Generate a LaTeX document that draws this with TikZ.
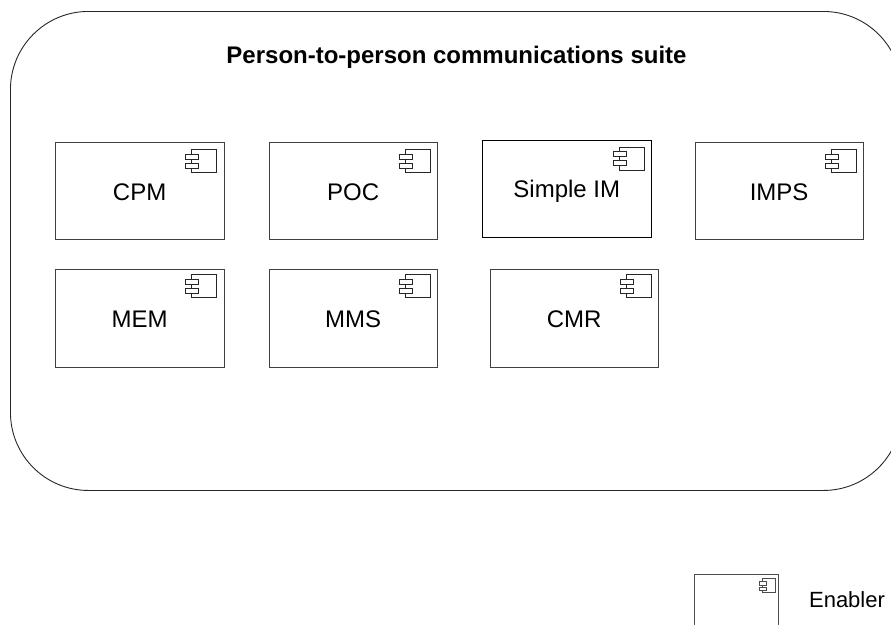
\documentclass[tikz,border=0pt]{standalone}
\usepackage{fontspec}
\setmainfont{Liberation Sans}
\tikzset{
  comp/.style={draw=black!75,line width=0.8pt,fill=white,inner sep=0pt,anchor=north west,
    minimum width=168.5pt,minimum height=97.5pt,text height=19.5pt,text depth=0pt,font=\fontsize{24}{28}\selectfont},
  lowcomp/.style={comp,text height=18pt},
  darkcomp/.style={comp,draw=black,line width=1.1pt,text height=17pt},
  iconline/.style={draw=black!85,line width=0.9pt,fill=white},
  smallicon/.style={draw=black!70,line width=0.8pt,fill=white},
  suite/.style={draw=black!85,line width=0.9pt,rounded corners=78pt,inner sep=0pt,anchor=north west,minimum width=891pt,minimum height=479pt},
  plain/.style={inner sep=0pt},
}
% #1 node name, #2 distance of the icon's top below the box's top
\newcommand{\compicon}[2]{%
  \path[iconline] ([shift={(-32.5pt,-#2pt)}]#1.north east) rectangle ([shift={(-7.5pt,-#2pt-23pt)}]#1.north east);
  \path[iconline] ([shift={(-38.5pt,-#2pt-4.5pt)}]#1.north east) rectangle ([shift={(-25.5pt,-#2pt-9.5pt)}]#1.north east);
  \path[iconline] ([shift={(-38.5pt,-#2pt-13.5pt)}]#1.north east) rectangle ([shift={(-25.5pt,-#2pt-18.5pt)}]#1.north east);
}
\begin{document}
\begin{tikzpicture}[x=1pt,y=-1pt]
\useasboundingbox (0,0) rectangle (891,624);
\clip (0,0) rectangle (891,624);
\node[suite] (suite) at (10,11) {};
\node[plain,font=\bfseries\fontsize{24}{28}\selectfont] (title) at (456.5,57) {Person-to-person communications suite};
\node[comp] (cpm) at (55,141.5) {CPM};
\node[comp] (poc) at (268.5,141.5) {POC};
\node[darkcomp] (sim) at (482,139.5) {Simple IM};
\node[comp] (imps) at (694.5,141.5) {IMPS};
\node[lowcomp] (mem) at (55,269) {MEM};
\node[lowcomp] (mms) at (268.5,269) {MMS};
\node[lowcomp] (cmr) at (489.5,269) {CMR};
\compicon{cpm}{8}\compicon{poc}{8}\compicon{sim}{7.5}\compicon{imps}{8}\compicon{mem}{5.5}\compicon{mms}{5.5}\compicon{cmr}{5.5}
\node[draw=black!70,line width=0.8pt,inner sep=0pt,anchor=north west,minimum width=84pt,minimum height=80pt] (leg) at (693.5,574) {};
\path[smallicon] ([shift={(-16pt,-4pt)}]leg.north east) rectangle ([shift={(-3pt,-18pt)}]leg.north east);
\path[smallicon] ([shift={(-19pt,-7pt)}]leg.north east) rectangle ([shift={(-12pt,-11pt)}]leg.north east);
\path[smallicon] ([shift={(-19pt,-13pt)}]leg.north east) rectangle ([shift={(-12pt,-16pt)}]leg.north east);
\node[plain,font=\fontsize{22}{26}\selectfont] (enabler) at (847,600) {Enabler};
\end{tikzpicture}
\end{document}
